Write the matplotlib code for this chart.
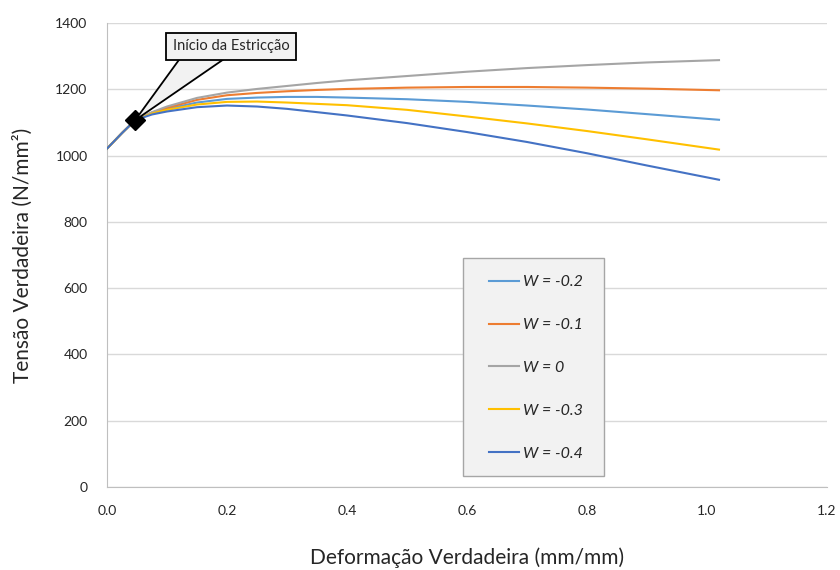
import matplotlib
matplotlib.use("Agg")
import matplotlib.pyplot as plt
from matplotlib.patches import Polygon, Rectangle

plt.rcParams['font.family'] = ['Lato', 'DejaVu Sans']

# ---- data ----
strain = [0.0, 0.025, 0.047, 0.075, 0.1, 0.15, 0.2, 0.25, 0.3, 0.35, 0.4, 0.5, 0.6, 0.7, 0.8, 0.9, 1.02]
w_m02 = [1021, 1068, 1107, 1129, 1141, 1160, 1171, 1175, 1177, 1177, 1175, 1170, 1162, 1151, 1139, 1125, 1108]
w_m01 = [1021, 1068, 1107, 1130, 1144, 1168, 1182, 1189, 1194, 1198, 1201, 1205, 1207, 1207, 1205, 1202, 1197]
w_0 = [1021, 1068, 1107, 1131, 1148, 1174, 1190, 1201, 1210, 1219, 1227, 1240, 1253, 1264, 1273, 1281, 1288]
w_m03 = [1021, 1068, 1107, 1127, 1138, 1154, 1162, 1163, 1160, 1156, 1152, 1138, 1118, 1097, 1074, 1049, 1018]
w_m04 = [1021, 1068, 1107, 1124, 1133, 1146, 1151, 1148, 1141, 1131, 1121, 1098, 1071, 1041, 1007, 970, 927]

series_labels = ["W = -0.2", "W = -0.1", "W = 0", "W = -0.3", "W = -0.4"]
series_values = [w_m02, w_m01, w_0, w_m03, w_m04]
series_colors = ["#5B9BD5", "#ED7D31", "#A5A5A5", "#FFC000", "#4472C4"]

necking_x = 0.047
necking_y = 1107
necking_label = "Início da Estricção"

x_ticks = [0.0, 0.2, 0.4, 0.6, 0.8, 1.0, 1.2]
y_ticks = [0, 200, 400, 600, 800, 1000, 1200, 1400]

# ---- figure ----
fig = plt.figure(figsize=(8.4, 5.7), dpi=100)
ax = fig.add_axes([107/840, 83/570, 720/840, 464/570])

for lab, vals, col in zip(series_labels, series_values, series_colors):
    ax.plot(strain, vals, color=col, lw=1.5, label=lab, zorder=3)

ax.plot([necking_x], [necking_y], marker='D', color='black', markersize=10,
        zorder=5, ls='none')

# callout: wedge + text box
wedge = Polygon([(necking_x, necking_y), (0.1325, 1320), (0.218, 1320)], closed=True,
                fc='#f2f2f2', ec='black', lw=1.3, zorder=6, joinstyle='miter')
ax.add_patch(wedge)
ax.text(0.2067, 1330, necking_label, ha='center', va='center', fontsize=10.5,
        color='#262626', zorder=7,
        bbox=dict(boxstyle='square,pad=0.45', fc='#f2f2f2', ec='black', lw=1.3))

ax.set_xlim(0, 1.2)
ax.set_ylim(0, 1400)
ax.set_xticks(x_ticks)
ax.set_xticklabels([f"{v:.1f}" for v in x_ticks])
ax.set_yticks(y_ticks)
ax.set_yticklabels([str(v) for v in y_ticks])
ax.tick_params(length=0, labelsize=10, colors='#262626')
ax.tick_params(axis='x', pad=13)
ax.tick_params(axis='y', pad=14)
ax.yaxis.grid(True, color='#d9d9d9', lw=1)
ax.set_axisbelow(True)
for s in ['top', 'right']:
    ax.spines[s].set_visible(False)
for s in ['left', 'bottom']:
    ax.spines[s].set_color('#bfbfbf')

ax.set_xlabel("Deformação Verdadeira (mm/mm)", fontsize=15, color='#262626', labelpad=22)
ax.set_ylabel("Tensão Verdadeira (N/mm²)", fontsize=15, color='#262626', labelpad=16)

# legend with frame drawn as a background rectangle
frame = Rectangle((463/840, 1 - 476/570), (604 - 463)/840, (476 - 258)/570,
                  transform=fig.transFigure, fc='#f2f2f2', ec='#a6a6a6', lw=1.0,
                  zorder=4, clip_on=False)
ax.add_patch(frame)
leg = ax.legend(loc='upper left', bbox_to_anchor=(489/840, 1 - 275/570),
                bbox_transform=fig.transFigure, frameon=False,
                prop={'style': 'italic', 'size': 11.5}, labelspacing=1.8,
                handlelength=1.9, handletextpad=0.25, borderpad=0, borderaxespad=0)
leg.set_zorder(6)
for t in leg.get_texts():
    t.set_color('#262626')

fig.savefig("out.png", dpi=100)
